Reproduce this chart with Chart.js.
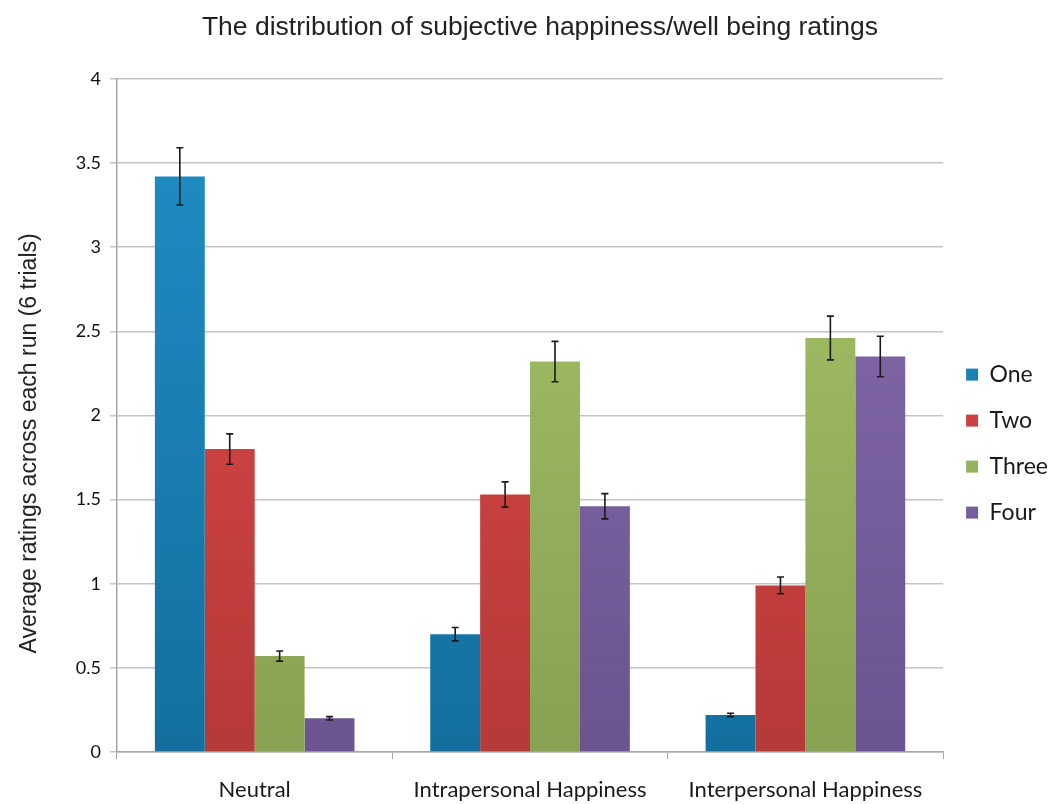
<!DOCTYPE html>
<html>
<head>
<meta charset="utf-8">
<script src="https://cdn.jsdelivr.net/npm/chart.js@4.4.1/dist/chart.umd.min.js"></script>
<style>
  html, body { margin: 0; padding: 0; background: #ffffff; }
  #wrap { width: 1053px; height: 804px; }
</style>
</head>
<body>
<div id="wrap"><canvas id="c" width="1053" height="804"></canvas></div>
<script>
// Conditions on the x axis
const categories = ['Neutral', 'Intrapersonal Happiness', 'Interpersonal Happiness'];

// Mean ratings per run
const seriesNames = ['One', 'Two', 'Three', 'Four'];
const runOne   = [3.42, 0.70, 0.22];
const runTwo   = [1.80, 1.53, 0.99];
const runThree = [0.57, 2.32, 2.46];
const runFour  = [0.20, 1.46, 2.35];

// Error bar half-lengths per run
const errOne   = [0.17, 0.04, 0.01];
const errTwo   = [0.09, 0.075, 0.05];
const errThree = [0.03, 0.12, 0.13];
const errFour  = [0.01, 0.075, 0.12];

// Y axis tick values
const yTicks = [0, 0.5, 1, 1.5, 2, 2.5, 3, 3.5, 4];

const chartTitle = 'The distribution of subjective happiness/well being ratings';
const yTitle = 'Average ratings across each run (6 trials)';

// Top and bottom colours of each series' bar gradient
const palette = [
  ['#1f8fc6', '#146f9f'],
  ['#e44a4a', '#b53a38'],
  ['#a8c66a', '#88a152'],
  ['#8a6eb0', '#6b5490']
];

function barGradient(idx) {
  return function (ctx) {
    const chart = ctx.chart;
    const area = chart.chartArea;
    if (!area) return palette[idx][0];
    const g = chart.ctx.createLinearGradient(0, area.top, 0, area.bottom);
    g.addColorStop(0, palette[idx][0]);
    g.addColorStop(1, palette[idx][1]);
    return g;
  };
}

const values = [runOne, runTwo, runThree, runFour];
const errors = [errOne, errTwo, errThree, errFour];

const datasets = seriesNames.map((name, i) => ({
  label: name,
  data: values[i],
  errors: errors[i],
  backgroundColor: barGradient(i),
  borderWidth: 0,
  categoryPercentage: 0.725,
  barPercentage: 1.0
}));

// Draws symmetric error bars on top of each bar using the y scale
const errorBars = {
  id: 'errorBars',
  afterDatasetsDraw(chart) {
    const ctx = chart.ctx;
    const y = chart.scales.y;
    ctx.save();
    ctx.strokeStyle = '#1a1a1a';
    ctx.lineWidth = 1.6;
    chart.data.datasets.forEach((ds, di) => {
      const meta = chart.getDatasetMeta(di);
      meta.data.forEach((bar, i) => {
        const v = ds.data[i];
        const e = ds.errors[i];
        const yTop = y.getPixelForValue(v + e);
        const yBot = y.getPixelForValue(v - e);
        const cap = 3.5;
        ctx.beginPath();
        ctx.moveTo(bar.x, yTop);
        ctx.lineTo(bar.x, yBot);
        ctx.moveTo(bar.x - cap, yTop);
        ctx.lineTo(bar.x + cap, yTop);
        ctx.moveTo(bar.x - cap, yBot);
        ctx.lineTo(bar.x + cap, yBot);
        ctx.stroke();
      });
    });
    ctx.restore();
  }
};

// Rotated y axis title, sitting a little below the plot's middle
const yAxisTitle = {
  id: 'yAxisTitle',
  afterDraw(chart) {
    const ctx = chart.ctx;
    const area = chart.chartArea;
    ctx.save();
    ctx.translate(30, (area.top + area.bottom) / 2 + 28);
    ctx.rotate(-Math.PI / 2);
    ctx.fillStyle = '#222222';
    ctx.font = '23px "Liberation Sans"';
    ctx.textAlign = 'center';
    ctx.textBaseline = 'middle';
    ctx.fillText(yTitle, 0, 0);
    ctx.restore();
  }
};

new Chart(document.getElementById('c'), {
  type: 'bar',
  data: { labels: categories, datasets: datasets },
  plugins: [errorBars, yAxisTitle],
  options: {
    responsive: false,
    animation: false,
    layout: { padding: { top: 0, right: -5, left: 22, bottom: 0 } },
    plugins: {
      title: {
        display: true,
        text: chartTitle,
        color: '#222222',
        font: { family: 'Liberation Sans', size: 26.5, weight: 'normal' },
        padding: { top: 12, bottom: 35 }
      },
      legend: {
        position: 'right',
        align: 'center',
        // empty title block: pushes the centred key down a little
        title: {
          display: true,
          text: '',
          font: { size: 1 },
          padding: { top: 82, bottom: 0 }
        },
        labels: {
          boxWidth: 12,
          boxHeight: 12,
          padding: 23,
          color: '#1a1a1a',
          font: { family: 'Lato', size: 23 }
        }
      },
      tooltip: { enabled: false }
    },
    scales: {
      x: {
        offset: true,
        afterFit(axis) { axis.height = 52; },
        grid: {
          offset: true,
          drawOnChartArea: false,
          drawTicks: true,
          tickLength: 7,
          color: '#a6a6a6'
        },
        border: { color: '#a6a6a6', width: 1.5 },
        ticks: {
          color: '#1a1a1a',
          font: { family: 'Lato', size: 22 },
          padding: 18,
          maxRotation: 0,
          autoSkip: false
        }
      },
      y: {
        min: 0,
        max: 4,
        afterFit(axis) { axis.width = 95; },
        afterBuildTicks(axis) {
          axis.ticks = yTicks.map(v => ({ value: v }));
        },
        grid: {
          color: '#c4c4c4',
          lineWidth: 1.5,
          tickLength: 7
        },
        border: { color: '#a6a6a6', width: 1.5 },
        ticks: {
          color: '#111111',
          font: { family: 'Lato', size: 18 },
          padding: 9,
          callback: v => String(v)
        },
        title: { display: false }
      }
    }
  }
});
</script>
</body>
</html>
